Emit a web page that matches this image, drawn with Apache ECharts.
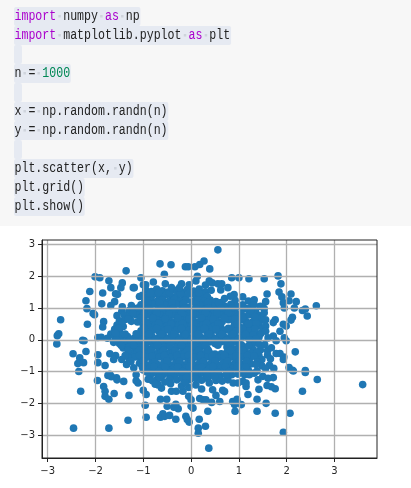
<!DOCTYPE html>
<html>
<head>
<meta charset="utf-8">
<style>
  html, body { margin: 0; padding: 0; background: #fff; }
  #chart { width: 411px; height: 488px; }
</style>
<script src="https://cdn.jsdelivr.net/npm/echarts@6/dist/echarts.min.js"></script>
</head>
<body>
<div id="chart"></div>
<script>
const codeLines = [
  'import numpy as np',
  'import matplotlib.pyplot as plt',
  '',
  'n = 1000',
  '',
  'x = np.random.randn(n)',
  'y = np.random.randn(n)',
  '',
  'plt.scatter(x, y)',
  'plt.grid()',
  'plt.show()'
];

const xTicks = [-3, -2, -1, 0, 1, 2, 3];
const yTicks = [-3, -2, -1, 0, 1, 2, 3];

// points, edge of the cloud first
const leftPoints = [
  [-2.73,.63],[-2.77,.19],[-2.8,.13],[-2.81,-.13],[-2.47,-.44],[-2.33,-.57],[-2.27,-.02],[-2.24,-.03],[-2.17,.49],[-2.2,-.37],
  [-2.18,.98],[-2.2,1.23],[-2.12,1.52],[-2.05,.83],[-2.02,.79],[-2.01,1.98],[-1.91,1.95],[-1.95,-.47],[-1.95,.07],[-1.88,.08],
  [-1.85,1.47],[-1.87,1.13],[-1.83,.57],[-1.85,.4],[-1.72,1.86],[-1.68,1.64],[-1.6,1.2],[-1.68,1.08],[-1.58,1.45],[-1.54,1.43],
  [-1.47,1.64],[-1.44,1.79],[-1.36,2.17],[-1.44,1.04],[-1.25,1.08],[-1.21,1.64],[-1.19,1.64],[-1.08,1.36],[-1.05,1.95],[-1,1.73],
  [-.95,1.73],[-.79,1.82],[-.85,1.47],[-2.37,-.75],[-2.25,-.72],[-2.35,-1],[-2.31,-1.62],[-2.46,-2.78],[-1.72,-2.78],[-1.32,-2.53],
  [-.94,-2.44],[-1.96,-1.28],[-1.95,-.72],[-1.8,-.81],[-1.83,-1.47],[-1.8,-1.62],[-1.8,-1.78],[-1.72,-1.87],[-1.61,-1.69],[-1.74,-1.12],
  [-1.67,-1.16],[-1.55,-1.26],[-1.41,-1.31],[-1.3,-1.75],[-1.15,-1.1],[-1.11,-1.36],[-1.15,-1.29],[-1,-1.59],[-.94,-1.72],[-.96,-2.06]
];

const topPoints = [
  [-.65,2.39],[-.42,2.36],[-.56,2.06],[-.54,1.76],[-.41,1.64],[-.2,1.76],[-.24,1.64],[-.04,1.73],[-.12,2.3],[-.06,2.3],
  [.08,2.3],[.18,2.37],[.27,2.48],[.13,2],[.56,2.83],[.39,2.23],[.85,1.95],[1,1.95],[1.21,1.92],[1.53,1.92],
  [1.82,2.01],[1.88,1.76],[.77,1.64],[.64,1.76],[.62,1.57],[.44,1.79],[.56,1.76],[.38,1.86],[.3,1.72],[.1,1.85]
];

const rightPoints = [
  [1.59,1.44],[1.84,1.5],[2.09,1.44],[1.9,1.35],[1.93,1.16],[2.05,1.23],[2.2,1.2],[1.95,1],[2.16,1],[2.62,1.07],
  [2.39,.97],[2.33,.92],[2.43,.75],[2.12,.71],[2.09,.62],[1.76,.63],[1.72,.54],[1.93,.49],[1.99,.43],[1.86,.27],
  [1.95,.06],[1.99,-.03],[1.78,-.03],[2.18,-.38],[1.86,-.43],[1.94,-.54],[1.78,-.43],[1.56,1.2],[1.53,.98],[1.53,.85],
  [1.32,1.26],[1.25,.92],[1.08,1.35],[.82,1.37],[.7,1.3],[1.08,1.1],[1.32,1.1],[1.56,.63],[1.56,.43],[1.56,.27],
  [1.61,.06],[1.43,-.15],[1.54,-.15],[1.33,.72],[3.59,-1.41],[2.64,-1.25],[2.39,-.97],[2.39,-1.03],[2.33,-1.62],[2.05,-.87],
  [2.12,-.96],[2.14,-.98],[1.93,-.62],[1.73,-.9],[1.72,-1.19],[1.59,-1.44],[1.68,-1.48],[1.76,-1.54],[1.42,-1.56],[1.38,-1.87],
  [1.57,-2],[1.38,-2.25],[1.76,-2.31],[2.07,-2.31],[1.93,-2.91],[1.19,-1.72],[1.36,-.78],[1.05,-2.04],[.96,-1.87],[.87,-1.94],
  [.91,-2.04],[.96,-1.96],[.92,-2.25],[1.15,-1.47],[1.32,-1.05],[1.4,-1.26],[1.5,-1.15],[1.61,-1.21],[1.56,-.9],[1.12,-1.1],
  [1.22,-1.1],[1.08,-1.31],[1.15,-1.36],[.98,-1.36],[.88,-1.36],[.77,-1.26]
];

const bottomPoints = [
  [-.81,-1.29],[-.64,-1.87],[-.51,-1.87],[-.5,-2.09],[-.36,-2.12],[-.27,-2.17],[-.32,-2.03],[-.41,-1.62],[-.31,-1.62],[-.17,-1.62],
  [-.59,-2.33],[-.64,-2.44],[-.55,-2.41],[-.45,-2.38],[-.32,-2.5],[-.11,-2.41],[-.08,-2.51],[-.04,-2.59],[.17,-2.5],[.15,-2.78],
  [.15,-2.94],[0,-2.09],[.04,-2.15],[-.05,-1.78],[0,-1.89],[.25,-1.89],[.3,-2.72],[-.62,-1.52],[-.69,-1.42],[.37,-3.41],
  [.35,-2.25],[.6,-1.94],[.43,-1.97],[.31,-1.89],[.52,-1.75],[.45,-1.57],[.66,-1.59],[.7,-1.63],[.38,-1.36],[.18,-1.85],
  [.73,-1.1],[.49,-1.16],[-.43,-1.38],[-.2,-1.45],[-.05,-1.5],[.1,-1.42],[.22,-1.55],[-.75,-1.4],[-.55,-1.33],[-.12,-1.35]
];

const corePoints = [
  [-.95,1.57],[-.83,1.52],[-.72,1.6],[-.6,1.54],[-.48,1.5],[-.33,1.56],[-.2,1.5],[-.08,1.58],[.05,1.53],[.17,1.6],[.3,1.5],[.42,1.56],
  [-1.02,1.4],[-.9,1.34],[-.78,1.43],[-.66,1.37],[-.52,1.42],[-.4,1.35],[-.28,1.41],[-.15,1.36],[-.02,1.44],[.1,1.38],[.22,1.42],[.34,1.36],[.9,1.42],
  [-.97,1.22],[-.85,1.27],[-.73,1.2],[-.6,1.26],[-.47,1.2],[-.35,1.27],[-.22,1.22],[-.1,1.25],[.03,1.2],[.15,1.28],[.28,1.22],[.4,1.25],[.52,1.2],[.64,1.17],[.92,1.24],[1.2,1.22],
  [-1.3,.92],[-1.05,1.1],[-.93,1.05],[-.8,1.12],[-.68,1.06],[-.55,1.1],[-.42,1.04],[-.3,1.12],[-.17,1.06],[-.05,1.03],[.2,1.08],[.33,1.12],[.45,1.05],[.58,1.1],[.7,1.06],[.83,1.12],[.95,1.05],[1.45,1.05],
  [-1.45,.9],[-1.2,.95],[-1.08,.88],[-.95,.94],[-.83,.9],[-.7,.95],[-.58,.89],[-.45,.93],[-.33,.88],[-.2,.95],[-.08,.9],[.05,.94],[.17,.88],[.3,.95],[.42,.9],[.55,.94],[.67,.89],[.8,.95],[.92,.9],[1.15,.98],[1.35,.9],
  [-1.55,.76],[-1.4,.78],[-1.28,.72],[-1.15,.78],[-1.02,.73],[-.9,.79],[-.77,.74],[-.65,.78],[-.52,.72],[-.4,.77],[-.27,.74],[-.15,.79],[-.02,.72],[.1,.78],[.23,.74],[.35,.78],[.48,.72],[.6,.79],[.72,.74],[.85,.78],[.97,.73],[1.2,.78],[1.42,.76],
  [-1.5,.6],[-1.38,.64],[-1.25,.58],[-1.12,.56],[-.98,.62],[-.85,.57],[-.72,.63],[-.6,.58],[-.47,.62],[-.35,.56],[-.22,.63],[-.1,.58],[.03,.62],[.15,.56],[.28,.63],[.4,.58],[.53,.62],[.65,.57],[.78,.63],[.9,.58],[1.03,.62],[1.15,.57],[1.28,.56],[1.45,.6],
  [-1.55,.46],[-1.42,.42],[-1.6,.33],[-1,.45],[-.88,.4],[-.75,.46],[-.63,.41],[-.5,.45],[-.38,.4],[-.25,.46],[-.13,.41],[0,.45],[.12,.4],[.25,.46],[.37,.41],[.5,.45],[.62,.4],[.9,.44],[1.02,.4],[1.15,.46],[1.28,.4],[1.42,.44],
  [-1.5,.26],[-1.68,.18],[-1.05,.28],[-.92,.24],[-.8,.3],[-.67,.25],[-.55,.29],[-.42,.24],[-.3,.3],[-.17,.25],[-.05,.29],[.08,.24],[.2,.3],[.33,.25],[.45,.29],[.58,.24],[.7,.3],[.83,.25],[.95,.29],[1.08,.24],[1.2,.28],[1.34,.24],[1.46,.2],
  [-1.75,.05],[-1.6,.1],[-1.47,.06],[-1.33,.1],[-1.2,.04],[-1.07,.1],[-.95,.06],[-.82,.11],[-.7,.05],[-.57,.1],[-.45,.06],[-.32,.12],[-.2,.07],[-.07,.1],[.05,.05],[.18,.11],[.3,.06],[.43,.1],[.55,.05],[.68,.11],[.8,.06],[.93,.1],[1.05,.05],[1.18,.09],[1.42,.08],[1.72,.12],
  [-1.62,-.08],[-1.5,-.12],[-1.37,-.06],[-1.25,-.12],[-1.12,-.07],[-1,-.12],[-.87,-.06],[-.75,-.11],[-.62,-.07],[-.5,-.12],[-.37,-.06],[-.25,-.11],[-.12,-.07],[0,-.12],[.13,-.06],[.25,-.11],[.38,-.07],[.5,-.12],[.63,-.06],[.75,-.11],[.88,-.07],[1,-.12],[1.3,-.1],
  [-1.42,-.26],[-1.3,-.22],[-1.17,-.27],[-1.05,-.22],[-.92,-.28],[-.8,-.23],[-.67,-.27],[-.55,-.22],[-.42,-.28],[-.3,-.23],[-.17,-.27],[-.05,-.22],[.08,-.28],[.2,-.23],[.33,-.27],[.75,-.23],[.88,-.28],[1,-.22],[1.13,-.28],[1.3,-.3],[1.45,-.32],[1.6,-.34],[1.68,-.25],
  [-1.7,-.44],[-1.58,-.5],[-1.25,-.42],[-1.12,-.38],[-1,-.44],[-.87,-.38],[-.75,-.44],[-.62,-.39],[-.5,-.43],[-.37,-.38],[-.25,-.44],[-.12,-.39],[0,-.43],[.13,-.38],[.25,-.44],[.38,-.39],[.5,-.45],[.63,-.44],[.75,-.39],[.88,-.44],[1,-.38],[1.13,-.44],[1.25,-.42],[1.42,-.5],[1.6,-.48],
  [-1.62,-.62],[-1.45,-.62],[-1.3,-.58],[-1.17,-.54],[-1.05,-.6],[-.92,-.55],[-.8,-.6],[-.67,-.54],[-.55,-.6],[-.42,-.55],[-.3,-.6],[-.17,-.54],[-.05,-.6],[.08,-.55],[.2,-.6],[.33,-.54],[.45,-.6],[.58,-.56],[.7,-.6],[.83,-.55],[.95,-.6],[1.08,-.54],[1.22,-.6],[1.48,-.62],[1.66,-.6],
  [-1.35,-.78],[-1.2,-.88],[-1.08,-.74],[-.95,-.78],[-.82,-.72],[-.7,-.78],[-.57,-.72],[-.45,-.78],[-.32,-.72],[-.2,-.78],[-.07,-.72],[.05,-.78],[.18,-.72],[.3,-.78],[.43,-.72],[.55,-.78],[.68,-.72],[.8,-.78],[.93,-.72],[1.05,-.78],[1.25,-.76],[1.48,-.82],[1.64,-.8],
  [-1,-.95],[-.87,-.9],[-.75,-.96],[-.62,-.9],[-.5,-.95],[-.37,-.9],[-.25,-.96],[-.12,-.9],[0,-.95],[.13,-.9],[.25,-.96],[.38,-.9],[.5,-.95],[.63,-.9],[.75,-.96],[.88,-.9],[1,-.95],[1.2,-.96],[1.38,-.98],
  [-1.7,-1.09],[-1.56,-1.2],[-.85,-1.1],[-.72,-1.06],[-.6,-1.12],[-.47,-1.07],[-.35,-1.12],[-.22,-1.06],[-.1,-1.12],[.03,-1.07],[.15,-1.12],[.28,-1.06],[.4,-1.1],[.6,-1.12],[.85,-1.1],[.98,-1.08],
  [-.9,-1.24],[-.72,-1.27],[-.45,-1.24],[-.3,-1.26],[-.18,-1.22],[-.03,-1.26],[.1,-1.22],[.22,-1.27],[.35,-1.23],[.52,-1.28],[.65,-1.3]
];

// second pass over the solid middle of the cloud
const denseCorePoints = [
  [-.88,1.46],[-.68,1.48],[-.45,1.47],[-.22,1.46],[-.05,1.46],[.16,1.47],[-.9,1.15],[-.66,1.16],[-.4,1.16],[-.16,1.14],[.1,1.13],[.35,1.17],[.58,1.16],
  [-1.12,1],[-.88,.98],[-.62,1],[-.38,.98],[-.14,1],[.1,.99],[.36,1.01],[.62,1],[.86,1],[1.06,1],[1.25,1.02],
  [-1.22,.84],[-.98,.82],[-.72,.84],[-.46,.82],[-.2,.84],[.04,.83],[.3,.85],[.54,.83],[.78,.85],[1.05,.82],[1.3,.82],[1.48,.7],
  [-1.32,.66],[-1.06,.67],[-.8,.68],[-.54,.66],[-.28,.68],[-.04,.65],[.22,.68],[.46,.66],[.7,.68],[.92,.66],[1.08,.7],[1.38,.68],
  [-1.45,.52],[-.94,.51],[-.68,.52],[-.42,.5],[-.18,.52],[.06,.5],[.32,.52],[.56,.5],[.96,.5],[1.2,.5],[1.36,.52],
  [-1.52,.36],[-.98,.35],[-.72,.36],[-.48,.34],[-.2,.36],[.04,.34],[.28,.36],[.52,.34],[.78,.36],[1.08,.34],[1.34,.34],[1.5,.36],
  [-1.58,.2],[-1.38,.18],[-1.15,.19],[-.88,.18],[-.62,.18],[-.36,.19],[-.12,.17],[.14,.18],[.38,.19],[.64,.17],[.88,.18],[1.14,.17],[1.3,.16],
  [-1.56,0],[-1.28,-.01],[-1.02,.01],[-.76,-.01],[-.5,.01],[-.26,-.02],[0,.01],[.24,-.01],[.5,.01],[.74,-.02],[.98,.01],[1.22,0],[1.36,.02],
  [-1.46,-.18],[-1.2,-.17],[-.96,-.19],[-.7,-.17],[-.44,-.19],[-.2,-.17],[.06,-.18],[.3,-.19],[.56,-.17],[.82,-.18],[1.06,-.17],[1.2,-.19],
  [-1.32,-.34],[-1.08,-.32],[-.84,-.34],[-.58,-.33],[-.34,-.35],[-.08,-.33],[.16,-.34],[.36,-.33],[.82,-.34],[1.08,-.33],[1.38,-.4],
  [-1.38,-.5],[-1.08,-.49],[-.82,-.51],[-.56,-.49],[-.3,-.5],[-.06,-.49],[.2,-.5],[.44,-.52],[.7,-.5],[.94,-.51],[1.18,-.5],[1.32,-.52],
  [-1.26,-.68],[-1,-.67],[-.76,-.69],[-.5,-.67],[-.24,-.68],[0,-.66],[.26,-.68],[.5,-.67],[.76,-.68],[1,-.67],[1.16,-.68],[1.38,-.7],
  [-1.02,-.86],[-.78,-.84],[-.54,-.86],[-.28,-.85],[-.04,-.84],[.22,-.86],[.46,-.84],[.72,-.85],[.96,-.84],[1.14,-.86],
  [-.92,-1.02],[-.68,-1],[-.42,-1.02],[-.18,-1],[.08,-1.02],[.32,-1],[.56,-1.02],[.8,-1],[1.08,-1.02],[-.66,-1.2],[-.1,-1.18],[.34,-1.16],[.58,-1.2]
];

const scatterPoints = [...corePoints, ...denseCorePoints, ...leftPoints, ...topPoints, ...rightPoints, ...bottomPoints];

const chart = echarts.init(document.getElementById('chart'));

const codeFont = '"Liberation Mono", monospace';
const charWidth = 6.97;
const lineHeight = 19;
const codeElements = [
  { type: 'rect', shape: { x: 0, y: 0, width: 411, height: 226 }, style: { fill: '#f7f7f7' } }
];

codeLines.forEach((line, i) => {
  const top = 7 + i * lineHeight;
  codeElements.push({
    type: 'rect',
    shape: { x: 14, y: top, width: Math.max(line.length, 1) * charWidth + 1, height: lineHeight, r: 2 },
    style: { fill: '#e6eaf2' }
  });
  // the picture shows each space as a small grey mark
  [...line].forEach((ch, k) => {
    if (ch === ' ') {
      codeElements.push({
        type: 'rect',
        shape: { x: 14.5 + k * charWidth + 2, y: top + 8, width: 2.5, height: 2.5 },
        style: { fill: '#cfd4dc' }
      });
    }
  });
  if (line) {
    const tagged = line
      .replace(/\b(import|as)\b/g, '{kw|$1}')
      .replace(/\b(1000)\b/g, '{num|$1}');
    codeElements.push({
      type: 'text',
      x: 14.5,
      y: top + 9.5,
      scaleY: 1.25,
      style: {
        text: tagged,
        font: '11.6px ' + codeFont,
        fill: '#222222',
        verticalAlign: 'middle',
        rich: {
          kw: { fontFamily: codeFont, fontSize: 11.6, fill: '#aa00cc', color: '#aa00cc' },
          num: { fontFamily: codeFont, fontSize: 11.6, fill: '#008855', color: '#008855' }
        }
      }
    });
  }
});

const tickLabel = (v) => String(v).replace('-', '\u2212');

const axisBase = {
  type: 'value',
  zlevel: 1,
  axisLine: { onZero: false, lineStyle: { color: '#222222', width: 1 } },
  axisTick: { length: 4, lineStyle: { color: '#222222', width: 1 } },
  splitLine: { show: true, lineStyle: { color: '#b0b0b0', width: 1.3 } }
};

chart.setOption({
  animation: false,
  backgroundColor: '#ffffff',
  graphic: { elements: codeElements },
  grid: {
    left: 42,
    right: 34,
    top: 240,
    bottom: 30,
    show: true,
    zlevel: 2,
    borderColor: '#222222',
    borderWidth: 1,
    backgroundColor: 'transparent'
  },
  xAxis: {
    ...axisBase,
    min: -3.12,
    max: 3.89,
    axisTick: { ...axisBase.axisTick, customValues: xTicks },
    axisLabel: {
      customValues: xTicks,
      formatter: tickLabel,
      color: '#262626',
      fontFamily: 'DejaVu Sans',
      fontSize: 10,
      margin: 8
    }
  },
  yAxis: {
    ...axisBase,
    min: -3.72,
    max: 3.14,
    axisTick: { ...axisBase.axisTick, customValues: yTicks },
    axisLabel: {
      customValues: yTicks,
      formatter: tickLabel,
      color: '#262626',
      fontFamily: 'DejaVu Sans',
      fontSize: 10,
      margin: 7,
      padding: [3, 0, 0, 0]
    }
  },
  series: [{
    type: 'scatter',
    data: scatterPoints,
    symbol: 'circle',
    symbolSize: 7.6,
    itemStyle: { color: '#1f77b4', opacity: 1 }
  }]
});

window.addEventListener('resize', () => chart.resize());
</script>
</body>
</html>
